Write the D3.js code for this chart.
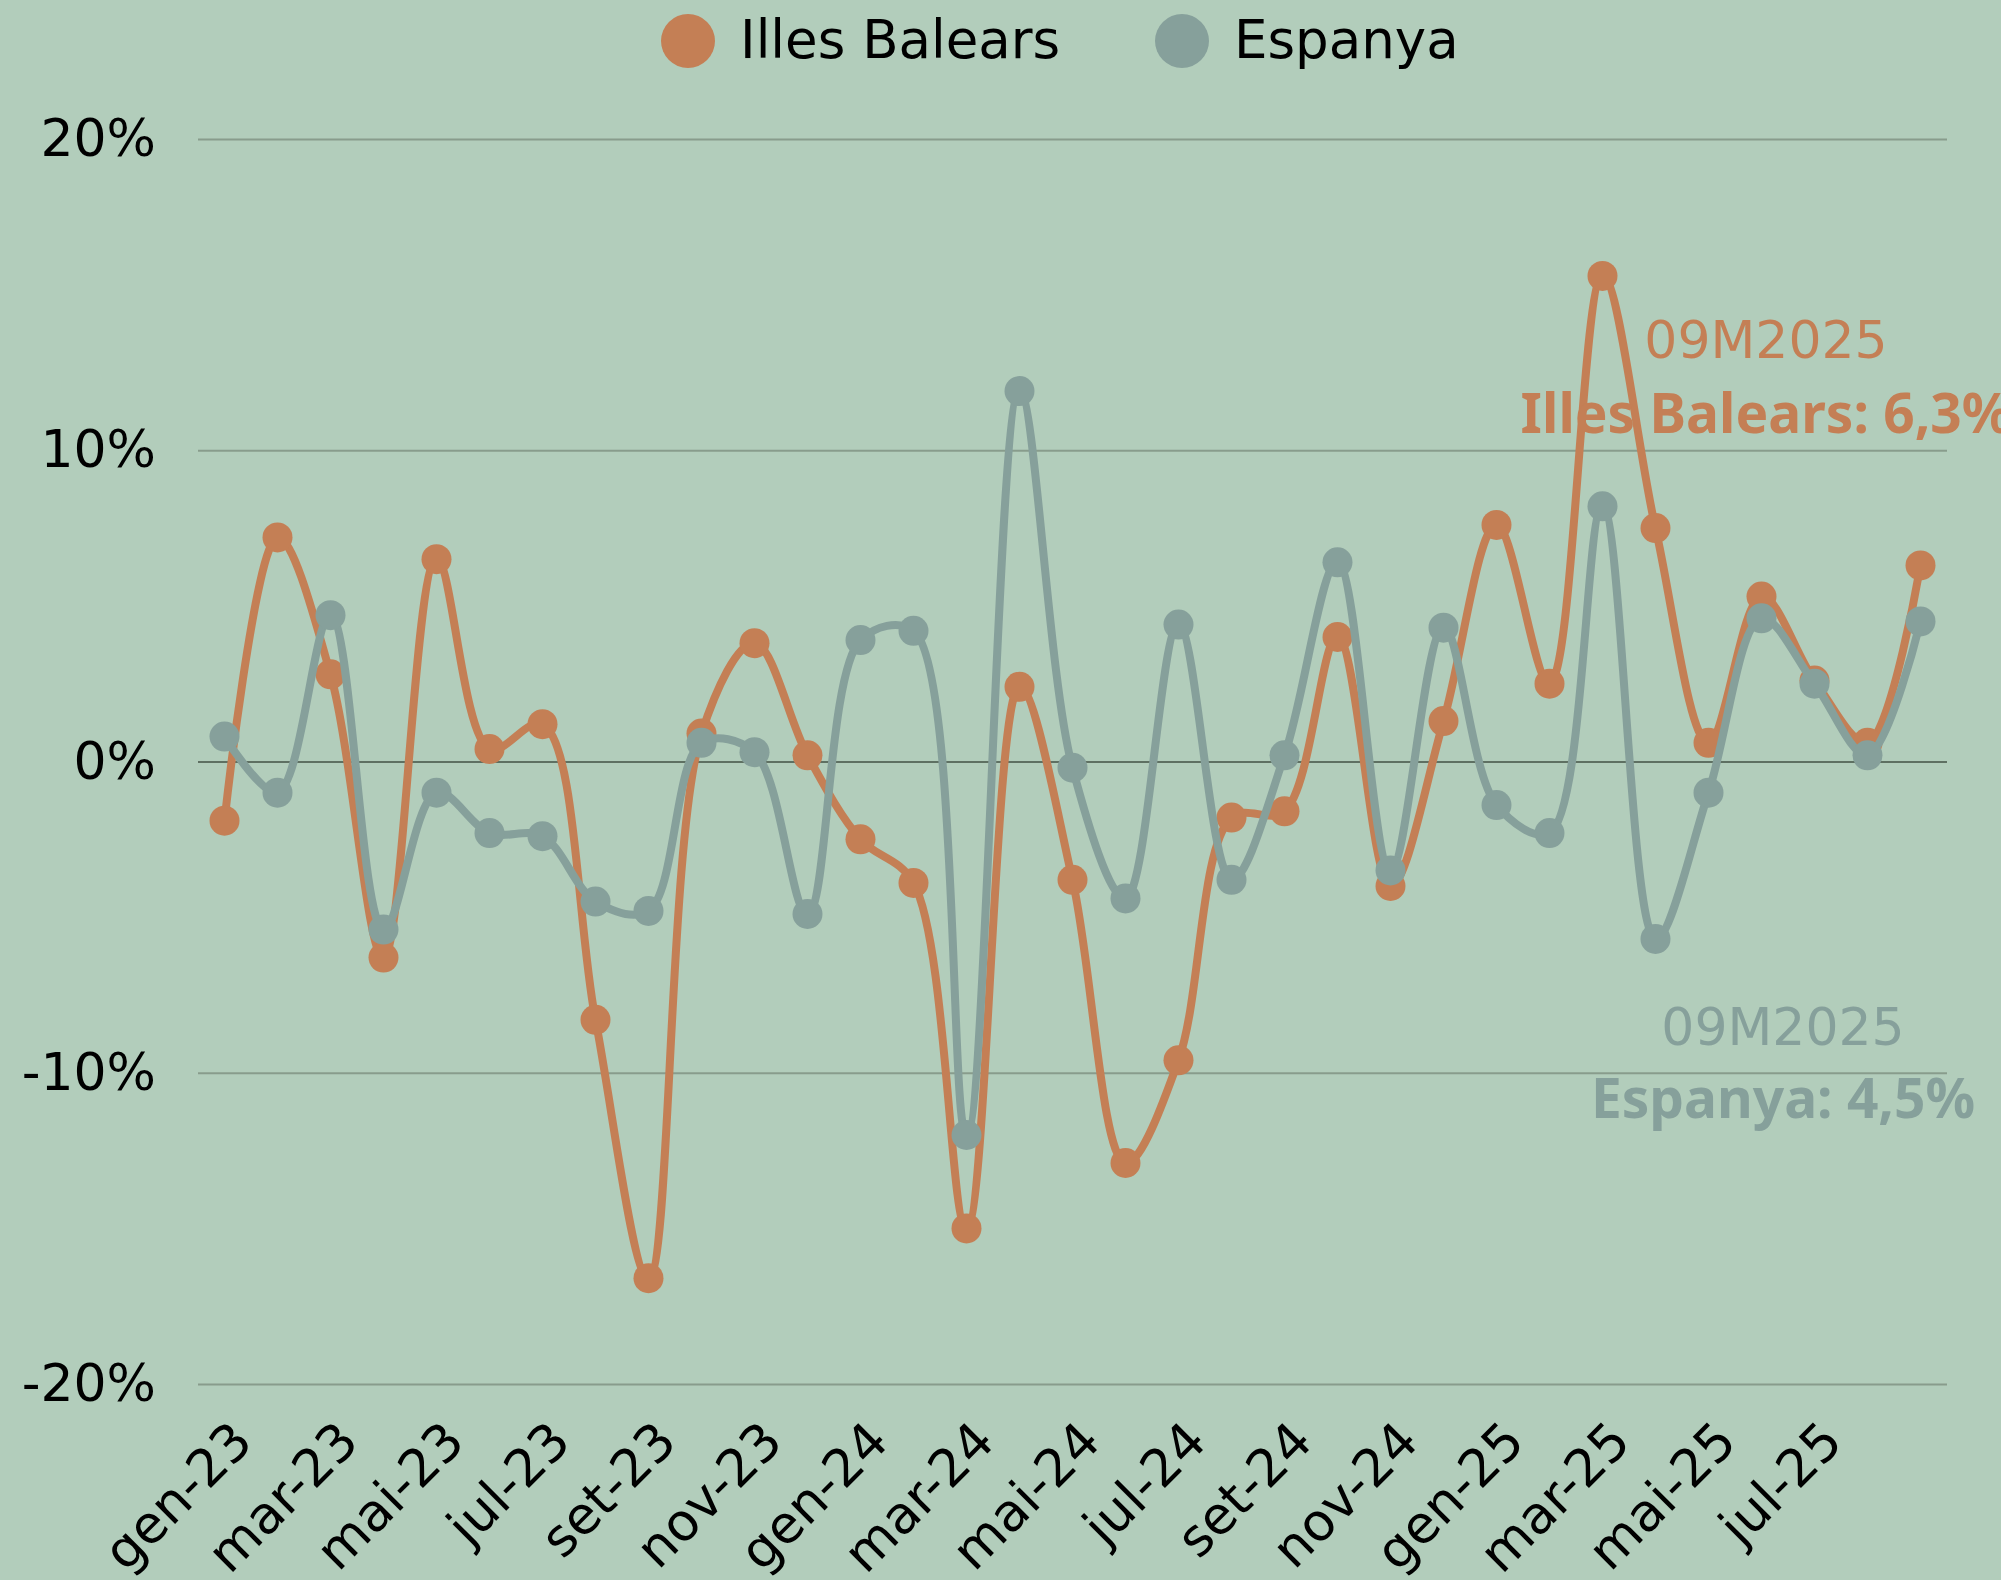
<!DOCTYPE html>
<html>
<head>
<meta charset="utf-8">
<script src="https://cdn.jsdelivr.net/npm/d3@7"></script>
<style>
  body { margin: 0; background: #B2CDBB; }
  svg { display: block; }
</style>
</head>
<body>
<div id="chart"></div>
<script>
// monthly change, %
const months = ["gen-23","feb-23","mar-23","abr-23","mai-23","jun-23","jul-23","ago-23","set-23","oct-23","nov-23","des-23",
    "gen-24","feb-24","mar-24","abr-24","mai-24","jun-24","jul-24","ago-24","set-24","oct-24","nov-24","des-24",
    "gen-25","feb-25","mar-25","abr-25","mai-25","jun-25","jul-25","ago-25","set-25"];

const balears = [-1.9, 7.2, 2.8, -6.3, 6.5, 0.4, 1.2, -8.3, -16.6, 0.9, 3.8, 0.2,
    -2.5, -3.9, -15.0, 2.4, -3.8, -12.9, -9.6, -1.8, -1.6, 4.0, -4.0, 1.3,
    7.6, 2.5, 15.6, 7.5, 0.6, 5.3, 2.6, 0.6, 6.3];

const espanya = [0.8, -1.0, 4.7, -5.4, -1.0, -2.3, -2.4, -4.5, -4.8, 0.6, 0.3, -4.9,
    3.9, 4.2, -12.0, 11.9, -0.2, -4.4, 4.4, -3.8, 0.2, 6.4, -3.5, 4.3,
    -1.4, -2.3, 8.2, -5.7, -1.0, 4.6, 2.5, 0.2, 4.5];

const yTicks = [-20, -10, 0, 10, 20];
const xLabels = ["gen-23","mar-23","mai-23","jul-23","set-23","nov-23","gen-24","mar-24","mai-24",
    "jul-24","set-24","nov-24","gen-25","mar-25","mai-25","jul-25"];

const series = [
    { name: "Illes Balears", values: balears, color: "#C47F55" },
    { name: "Espanya", values: espanya, color: "#86A09B" }
];

const width = 2001,
    height = 1580,
    margin = ({ top: 139, right: 54, bottom: 196, left: 198 });

const svg = d3.select("#chart")
    .append("svg")
    .attr("width", width)
    .attr("height", height)
    .attr("viewBox", [0, 0, width, height]);

svg.append("rect")
    .attr("width", width)
    .attr("height", height)
    .attr("fill", "#B2CDBB");

const x = d3.scalePoint()
    .domain(months)
    .range([margin.left, width - margin.right])
    .padding(0.5);

const y = d3.scaleLinear()
    .domain([-20, 20])
    .range([height - margin.bottom, margin.top]);

// y axis + gridlines
const yAxis = svg.append("g")
    .attr("transform", `translate(${margin.left},0)`)
    .call(d3.axisLeft(y)
        .tickValues(yTicks)
        .tickSize(-(width - margin.left - margin.right))
        .tickPadding(42)
        .tickFormat(d => d + "%"));

yAxis.select(".domain").remove();
yAxis.selectAll(".tick line")
    .attr("stroke", d => d === 0 ? "#5E7062" : "#889C8C")
    .attr("stroke-width", 2);
yAxis.selectAll(".tick text")
    .attr("fill", "#000")
    .style("font-family", "'DejaVu Sans'")
    .style("font-size", "52px");

// x axis labels, every second month
const xAxis = svg.append("g")
    .attr("transform", `translate(0,${height - margin.bottom})`)
    .call(d3.axisBottom(x).tickValues(xLabels).tickSize(0));

xAxis.select(".domain").remove();
xAxis.selectAll(".tick text")
    .attr("fill", "#000")
    .attr("text-anchor", "end")
    .attr("y", 0)
    .attr("dy", 0)
    .attr("transform", "translate(30,60) rotate(-45)")
    .style("font-family", "'DejaVu Sans'")
    .style("font-size", "52px");

const line = d3.line()
    .x((d, i) => x(months[i]))
    .y(d => y(d))
    .curve(d3.curveCatmullRom);

for (let s of series) {
    const g = svg.append("g");
    g.append("path")
        .attr("d", line(s.values))
        .attr("fill", "none")
        .attr("stroke", s.color)
        .attr("stroke-width", 8);
    g.selectAll("circle")
        .data(s.values)
        .join("circle")
        .attr("cx", (d, i) => x(months[i]))
        .attr("cy", d => y(d))
        .attr("r", 15)
        .attr("fill", s.color);
}

// legend
const legend = svg.append("g");
const legendX = [688, 1182];
series.forEach((s, i) => {
    legend.append("circle")
        .attr("cx", legendX[i])
        .attr("cy", 41)
        .attr("r", 27)
        .attr("fill", s.color);
    legend.append("text")
        .attr("x", legendX[i] + 52)
        .attr("y", 58)
        .style("font-family", "'DejaVu Sans'")
        .style("font-size", "53px")
        .attr("fill", "#000")
        .text(s.name);
});

// last value labels
const notes = [
    { s: series[0], cx: 1766, y1: 358, y2: 433 },
    { s: series[1], cx: 1783, y1: 1045, y2: 1118 }
];
for (let n of notes) {
    const last = n.s.values[n.s.values.length - 1];
    svg.append("text")
        .attr("x", n.cx)
        .attr("y", n.y1)
        .attr("text-anchor", "middle")
        .attr("fill", n.s.color)
        .style("font-family", "'DejaVu Sans'")
        .style("font-size", "52px")
        .text("09M2025");
    svg.append("text")
        .attr("x", n.cx)
        .attr("y", n.y2)
        .attr("text-anchor", "middle")
        .attr("fill", n.s.color)
        .style("font-family", "'Noto Sans'")
        .style("font-weight", "bold")
        .style("font-size", "55px")
        .text(`${n.s.name}: ${String(last).replace(".", ",")}%`);
}
</script>
</body>
</html>
